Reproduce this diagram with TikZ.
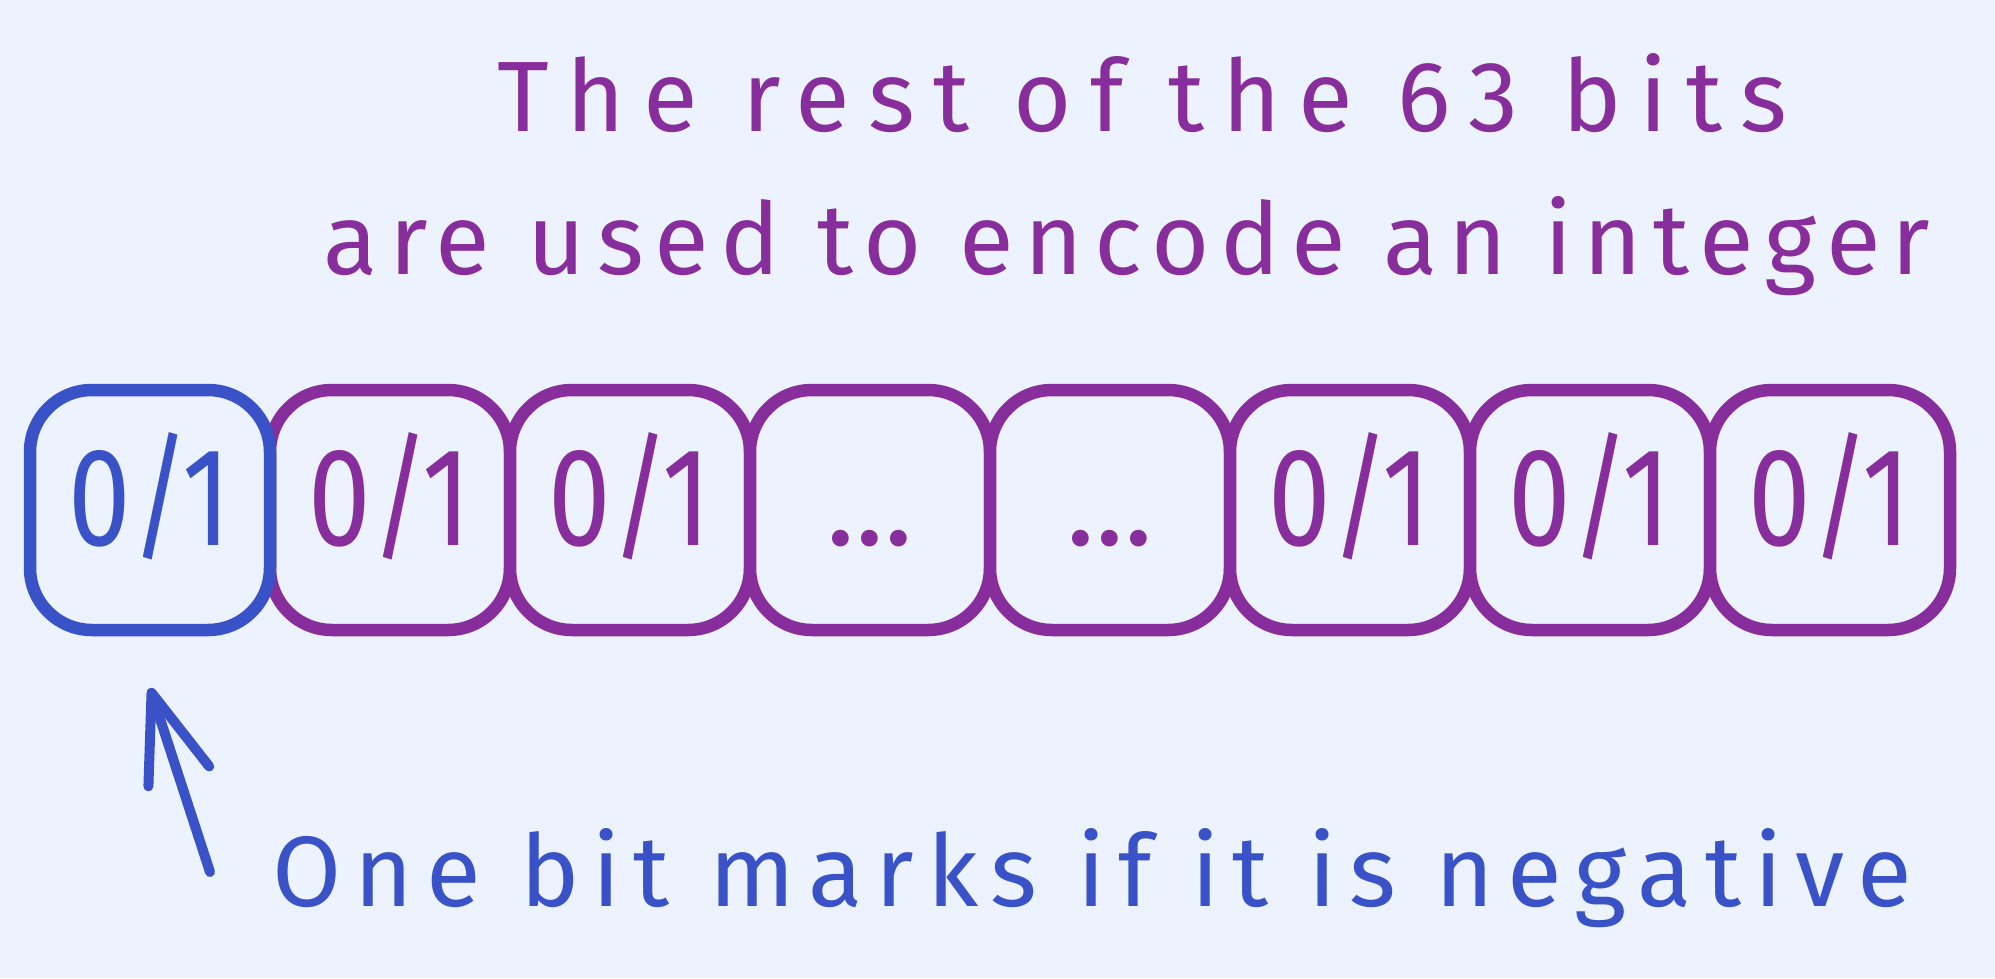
\documentclass[tikz,border=0pt]{standalone}
\usepackage{fontspec}
\usepackage{graphicx}
\setmainfont{Fira Sans}
\newfontfamily\handfamily{Fira Sans}[LetterSpace=13]
\usetikzlibrary{arrows.meta}

\definecolor{paper}{HTML}{ECF3FE}
\definecolor{signblue}{HTML}{3A52C7}
\definecolor{bitpurple}{HTML}{882E9C}

\newcommand\notefont{\handfamily\fontsize{100}{100}\selectfont}
\newcommand\bitfont{\fontsize{140}{140}\selectfont}
\newcommand\bitval{\scalebox{0.8}[1]{0/1}}
\newcommand\gapdots{\fontsize{120}{120}\selectfont...}

\tikzset{
  bitbox/.style={draw=bitpurple, fill=paper, line width=12.5pt, rounded corners=62pt,
    minimum width=240pt, minimum height=240pt, inner sep=0pt,
    text height=70pt, text depth=0pt, text=bitpurple, font=\bitfont},
  signbox/.style={bitbox, draw=signblue, text=signblue},
  note/.style={anchor=base, inner sep=0pt, font=\notefont},
  pointer/.style={draw=signblue, line width=10pt, line cap=round, line join=round,
    -{Straight Barb[length=88pt,width=64pt,round]}}
}

\begin{document}
\begin{tikzpicture}[x=1pt,y=-1pt]

\useasboundingbox (0,0) rectangle (1995,978);
\fill[paper] (0,0) rectangle (1995,978);

\coordinate (tail) at (210,872);
\coordinate (tip) at (150,688);

\foreach \i/\txt in {2/\bitval,3/\bitval,4/\gapdots,5/\gapdots,6/\bitval,7/\bitval,8/\bitval}
  \node[bitbox] (b\i) at ({150+240*(\i-1)},510) {\txt};
\node[signbox] (b1) at (150,510) {\bitval};

\node[note, text=bitpurple, font=\notefont\addfontfeature{LetterSpace=18}] (restline1) at (1142,131) {The rest of the 63 bits};
\node[note, text=bitpurple, font=\notefont\addfontfeature{LetterSpace=11}] (restline2) at (1127,274) {are used to encode an integer};
\node[note, text=signblue] (signnote) at (1092,906) {One bit marks if it is negative};

\draw[pointer] (tail) -- (tip);
\end{tikzpicture}
\end{document}
